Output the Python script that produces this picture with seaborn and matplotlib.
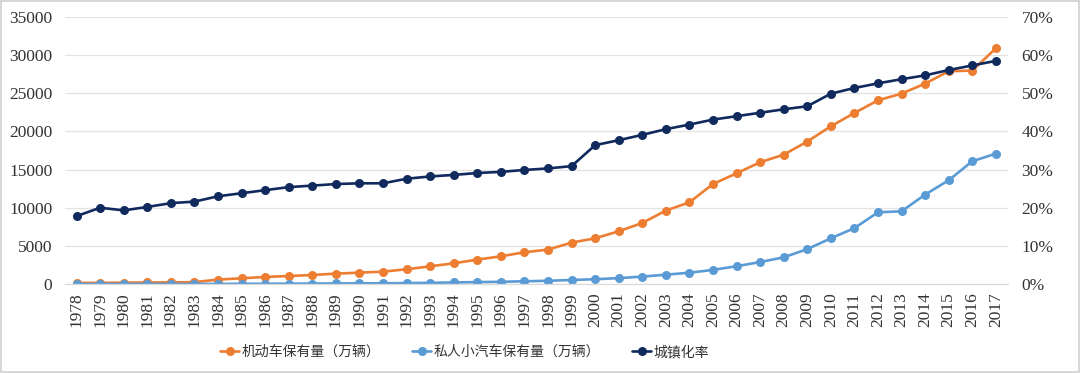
import numpy as np
import pandas as pd
import seaborn as sns
import matplotlib.pyplot as plt
import matplotlib.ticker as mticker
from matplotlib.patches import Rectangle

# --- Dados ---
anos = list(range(1978, 2018))

motor_veiculos = [136, 155, 178, 199, 215, 240, 580, 750, 920, 1050,
                  1180, 1360, 1490, 1620, 1930, 2320, 2710, 3200, 3630, 4160,
                  4510, 5430, 5990, 6910, 8000, 9620, 10710, 13110, 14510, 15960,
                  16960, 18670, 20680, 22420, 24080, 24960, 26270, 27890, 27980, 30900]

carros_privados = [1, 2, 3, 4, 6, 8, 13, 28, 35, 42,
                   60, 73, 82, 96, 118, 155, 205, 250, 290, 358,
                   420, 530, 625, 770, 970, 1220, 1480, 1850, 2330, 2880,
                   3500, 4570, 5990, 7330, 9400, 9530, 11720, 13600, 16090, 17090]

urbanizacao = [17.8, 20.0, 19.3, 20.2, 21.2, 21.6, 23.0, 23.8, 24.6, 25.4,
               25.8, 26.2, 26.4, 26.4, 27.6, 28.2, 28.6, 29.1, 29.4, 29.9,
               30.3, 30.9, 36.4, 37.7, 39.1, 40.6, 41.8, 43.1, 44.0, 44.9,
               45.8, 46.6, 49.9, 51.4, 52.6, 53.7, 54.7, 56.1, 57.3, 58.5]

rotulos = ['机动车保有量（万辆）', '私人小汽车保有量（万辆）', '城镇化率']
cores = ['#ED7D31', '#5B9BD5', '#102A5E']

df = pd.DataFrame({'pos': np.arange(len(anos)),
                   'motor': motor_veiculos,
                   'privado': carros_privados,
                   'urb': np.array(urbanizacao) / 100})

sns.set_style('white')
plt.rcParams['font.family'] = ['Liberation Serif', 'Noto Sans CJK SC', 'DejaVu Sans']
plt.rcParams['font.size'] = 12

fig = plt.figure(figsize=(10.8, 3.73), dpi=100)
ax = fig.add_axes([0.060, 0.2386, 0.873, 0.7158])
ax2 = ax.twinx()

estilo = dict(marker='o', markersize=6.5, linewidth=1.9, markeredgewidth=0)
sns.lineplot(data=df, x='pos', y='motor', ax=ax, color=cores[0], label=rotulos[0], **estilo)
sns.lineplot(data=df, x='pos', y='privado', ax=ax, color=cores[1], label=rotulos[1], **estilo)
sns.lineplot(data=df, x='pos', y='urb', ax=ax2, color=cores[2], label=rotulos[2], **estilo)

ax.set_xlim(-0.5, len(anos) - 0.5)
ax.set_ylim(0, 35000)
ax2.set_ylim(0, 0.7)
ax.set_yticks(np.arange(0, 35001, 5000))
ax2.set_yticks(np.arange(0, 0.71, 0.1))
ax2.yaxis.set_major_formatter(mticker.PercentFormatter(1.0, decimals=0))
ax.set_xticks(df['pos'])
ax.set_xticklabels([str(a) for a in anos], rotation=90)

ax.grid(axis='y', color='#e3e3e3', linewidth=0.9)
ax.set_axisbelow(True)
for a in (ax, ax2):
    for s in ['top', 'left', 'right']:
        a.spines[s].set_visible(False)
    a.spines['bottom'].set_color('#d9d9d9')
    a.set_xlabel('')
    a.set_ylabel('')
    a.tick_params(length=0, labelsize=12.5, colors='#333333')
ax.tick_params(axis='y', pad=9)
ax2.tick_params(axis='y', pad=10)
ax.tick_params(axis='x', pad=6)

# Legenda combinada
h1, l1 = ax.get_legend_handles_labels()
h2, l2 = ax2.get_legend_handles_labels()
ax.get_legend().remove()
ax2.get_legend().remove()
leg = fig.legend(h1 + h2, l1 + l2, loc='center', bbox_to_anchor=(0.43, 0.056), ncol=3,
                 frameon=False, handlelength=1.4, columnspacing=2.3,
                 handletextpad=0.15, prop={'family': ['Noto Sans CJK SC'], 'size': 10})
for t in leg.get_texts():
    t.set_color('#333333')

# Borda da figura
fig.patches.append(Rectangle((0.001, 0.003), 0.998, 0.995, transform=fig.transFigure,
                             fill=False, edgecolor='#d0d0d0', linewidth=1.2))

plt.savefig('out.png', dpi=100)
plt.close()
